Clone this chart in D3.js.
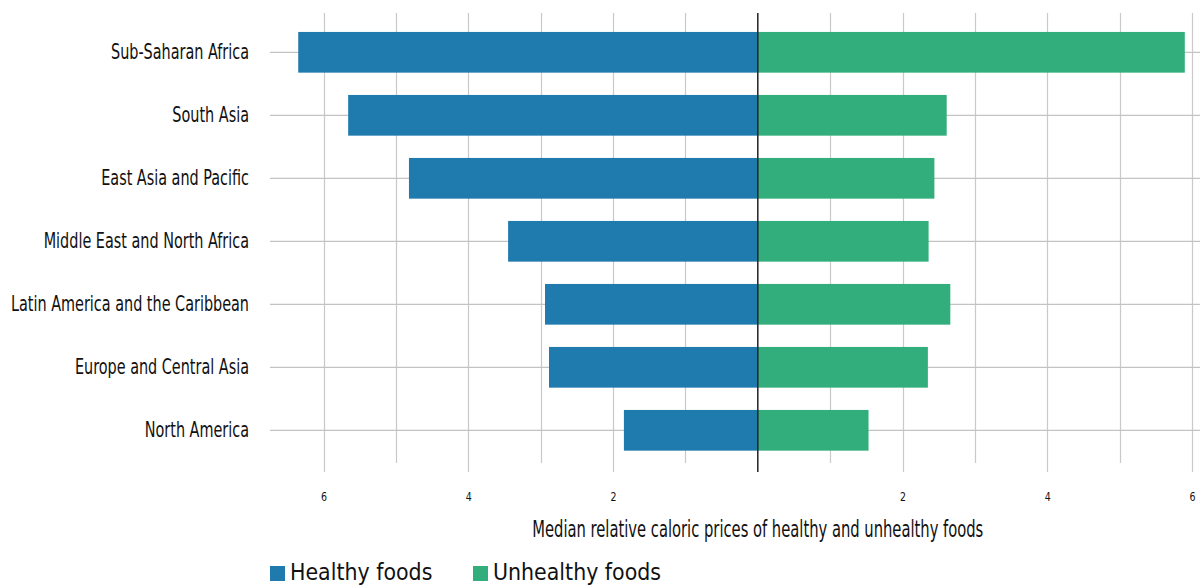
<!DOCTYPE html>
<html>
<head>
<meta charset="utf-8">
<script src="https://cdn.jsdelivr.net/npm/d3@7"></script>
<style>
  html, body { margin: 0; padding: 0; background: #fff; }
  svg { display: block; }
  text { font-family: "DejaVu Sans Condensed", "DejaVu Sans", sans-serif; font-stretch: condensed; fill: #111; }
</style>
</head>
<body>
<svg id="chart" width="1200" height="585"></svg>
<script>
const regions = ["Sub-Saharan Africa", "South Asia", "East Asia and Pacific", "Middle East and North Africa", "Latin America and the Caribbean", "Europe and Central Asia", "North America"];
const healthy = [6.35, 5.66, 4.82, 3.45, 2.94, 2.885, 1.85];
const unhealthy = [5.90, 2.61, 2.44, 2.36, 2.66, 2.35, 1.53];
const tickValues = [-6, -4, -2, 2, 4, 6];
const gridValues = [-6, -5, -4, -3, -2, -1, 1, 2, 3, 4, 5, 6];
const seriesNames = ["Healthy foods", "Unhealthy foods"];
const colors = ["#1F7AAD", "#31AE7B"];

const svg = d3.select("#chart");
const x = d3.scaleLinear().domain([-6.74, 6.11]).range([270, 1200]);
const y = d3.scalePoint().domain(regions).range([52.3, 430.3]);
const barH = 40.7;
const gridTop = 13, gridBottom = 463, tickBottom = 472;
const FONT = "'DejaVu Sans Condensed', 'DejaVu Sans', sans-serif";

// horizontally compress a group of texts so that a reference text gets a target width
function condense(sel, refNode, targetW) {
  const k = targetW / refNode.getComputedTextLength();
  sel.each(function () {
    const w = this.getComputedTextLength();
    d3.select(this).attr("textLength", w * k).attr("lengthAdjust", "spacingAndGlyphs");
  });
}

// vertical grid
svg.append("g").selectAll("line").data(gridValues).join("line")
  .attr("x1", d => Math.round(x(d)) + 0.5).attr("x2", d => Math.round(x(d)) + 0.5)
  .attr("y1", gridTop).attr("y2", d => (d % 2 === 0 ? tickBottom : gridBottom))
  .attr("stroke", "#c9c9c9").attr("stroke-width", 1.2);

// horizontal grid
svg.append("g").selectAll("line").data(regions).join("line")
  .attr("x1", 270).attr("x2", 1200)
  .attr("y1", d => y(d)).attr("y2", d => y(d))
  .attr("stroke", "#c3c3c3").attr("stroke-width", 1.2);

// bars
const data = regions.map((r, i) => ({ r, h: healthy[i], u: unhealthy[i] }));
svg.append("g").selectAll("rect").data(data).join("rect")
  .attr("x", d => x(-d.h)).attr("width", d => x(0) - x(-d.h))
  .attr("y", d => y(d.r) - barH / 2).attr("height", barH)
  .attr("fill", colors[0]);
svg.append("g").selectAll("rect").data(data).join("rect")
  .attr("x", x(0)).attr("width", d => x(d.u) - x(0))
  .attr("y", d => y(d.r) - barH / 2).attr("height", barH)
  .attr("fill", colors[1]);

// center line
svg.append("line").attr("x1", x(0)).attr("x2", x(0)).attr("y1", gridTop).attr("y2", tickBottom)
  .attr("stroke", "#222").attr("stroke-width", 1.5);

// category labels
const yAxis = d3.axisLeft(y).tickSize(0).tickPadding(0);
const ya = svg.append("g").attr("transform", "translate(249,0)").call(yAxis);
ya.select(".domain").remove();
const yl = ya.selectAll("text").attr("font-size", 21.5).attr("fill", "#111")
  .attr("font-family", FONT).attr("dy", "0.29em");
condense(yl, yl.filter(d => d === "Latin America and the Caribbean").node(), 238);

// x tick labels
const xAxis = d3.axisBottom(x).tickValues(tickValues).tickFormat(d => Math.abs(d)).tickSize(0).tickPadding(0);
const xa = svg.append("g").attr("transform", "translate(0,492)").call(xAxis);
xa.select(".domain").remove();
const xl = xa.selectAll("text").attr("font-size", 12.3).attr("fill", "#111")
  .attr("font-family", FONT);
condense(xl, xl.node(), 6);

// axis title
const title = svg.append("text").attr("x", x(0)).attr("y", 537).attr("text-anchor", "middle")
  .attr("font-size", 23.5).text("Median relative caloric prices of healthy and unhealthy foods");
condense(title, title.node(), 451);

// legend
const leg = svg.append("g");
const legX = [270, 473];
const legTexts = [];
seriesNames.forEach((s, i) => {
  leg.append("rect").attr("x", legX[i]).attr("y", 566).attr("width", 15).attr("height", 15).attr("fill", colors[i]);
  legTexts.push(leg.append("text").attr("x", legX[i] + 20).attr("y", 579.5).attr("font-size", 22.5).text(s).node());
});
condense(d3.selectAll(legTexts), legTexts[1], 168);
</script>
</body>
</html>
